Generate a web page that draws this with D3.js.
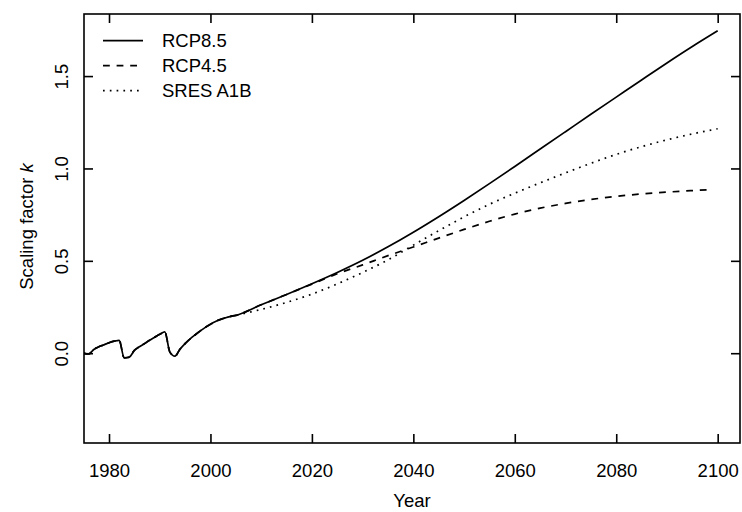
<!DOCTYPE html>
<html>
<head>
<meta charset="utf-8">
<script src="https://cdn.jsdelivr.net/npm/d3@7/dist/d3.min.js"></script>
<style>
  html, body { margin: 0; padding: 0; background: #fff; }
  svg { display: block; }
  text { font-family: "Liberation Sans", Arial, Helvetica, sans-serif; fill: #000; }
</style>
</head>
<body>
<script>
// ---- data ----
const histYears = [1975,1976,1977,1978,1979,1980,1981,1982,1983,1984,1985,1986,1987,1988,1989,1990,1991,1992,1993,1994,1995,1996,1997,1998,1999,2000,2001,2002,2003,2004,2005];
const histValues = [0.000,-0.004,0.020,0.035,0.045,0.057,0.065,0.070,-0.025,-0.021,0.015,0.035,0.052,0.070,0.086,0.102,0.115,0.006,-0.016,0.022,0.052,0.078,0.100,0.121,0.140,0.157,0.172,0.183,0.192,0.199,0.205];

const futYears = [2005,2010,2015,2020,2025,2030,2035,2040,2045,2050,2055,2060,2065,2070,2075,2080,2085,2090,2095,2100];
const rcp85 = [0.205,0.262,0.318,0.376,0.437,0.503,0.576,0.655,0.739,0.827,0.918,1.011,1.105,1.199,1.293,1.386,1.479,1.571,1.660,1.745];
const rcp45Years = [2005,2010,2015,2020,2025,2030,2035,2040,2045,2050,2055,2060,2065,2070,2075,2080,2085,2090,2095,2099];
const rcp45 = [0.205,0.262,0.318,0.374,0.430,0.478,0.528,0.575,0.623,0.670,0.714,0.753,0.785,0.811,0.832,0.849,0.862,0.872,0.880,0.886];
const sresA1B = [0.205,0.237,0.275,0.320,0.375,0.437,0.505,0.585,0.663,0.738,0.806,0.866,0.922,0.976,1.028,1.076,1.118,1.155,1.187,1.215];

const xTicks = [1980,2000,2020,2040,2060,2080,2100];
const yTicks = [0.0,0.5,1.0,1.5];
const legendLabels = ["RCP8.5","RCP4.5","SRES A1B"];

// ---- layout ----
const W = 742, H = 512;
const L = 84, R = 740, T = 14, B = 443;
const FS = 18.5;

const svg = d3.select("body").append("svg").attr("width", W).attr("height", H);

const x = d3.scaleLinear().domain([1975.07, 2104.4]).range([L, R]);
const y = d3.scaleLinear().domain([-0.486, 1.836]).range([B, T]);

function series(fy, fv) {
  const h = histYears.map((yr, i) => [yr, histValues[i]]);
  const f = fy.map((yr, i) => [yr, fv[i]]).filter(d => d[0] > 2005);
  return h.concat(f);
}

const line = d3.line().x(d => x(d[0])).y(d => y(d[1])).curve(d3.curveMonotoneX);
const lw = 1.7;
const styles = [
  { dash: null },
  { dash: `${4*lw},${4*lw}` },
  { dash: `${1*lw},${3*lw}` }
];
const data = [series(futYears, rcp85), series(rcp45Years, rcp45), series(futYears, sresA1B)];

svg.append("clipPath").attr("id", "c").append("rect")
  .attr("x", L).attr("y", T).attr("width", R - L).attr("height", B - T);

const g = svg.append("g").attr("clip-path", "url(#c)");
data.forEach((d, i) => {
  g.append("path").datum(d).attr("d", line)
    .attr("fill", "none").attr("stroke", "#000").attr("stroke-width", lw)
    .attr("stroke-dasharray", styles[i].dash)
    .attr("stroke-linejoin", "round");
});

// axes (ticks inward on all four sides)
const tk = 9;
const axB = svg.append("g").attr("transform", `translate(0,${B})`)
  .call(d3.axisBottom(x).tickValues(xTicks).tickSize(-tk).tickPadding(0).tickFormat(d3.format("d")));
const axT = svg.append("g").attr("transform", `translate(0,${T})`)
  .call(d3.axisTop(x).tickValues(xTicks).tickSize(-tk).tickFormat(""));
const axL = svg.append("g").attr("transform", `translate(${L},0)`)
  .call(d3.axisLeft(y).tickValues(yTicks).tickSize(-tk).tickFormat(d3.format(".1f")));
const axR = svg.append("g").attr("transform", `translate(${R},0)`)
  .call(d3.axisRight(y).tickValues(yTicks).tickSize(-tk).tickFormat(""));

[axB, axT, axL, axR].forEach(a => {
  a.select(".domain").remove();
  a.selectAll(".tick line").attr("stroke", "#000").attr("stroke-width", 1.6);
});

axB.selectAll(".tick text")
  .attr("y", 477 - B).attr("dy", null)
  .style("font-size", FS + "px").style("font-family", "Liberation Sans, Arial, sans-serif").attr("fill", "#000");

axL.selectAll(".tick text")
  .attr("x", null).attr("dy", null)
  .attr("transform", `translate(${68 - L},0) rotate(-90)`)
  .attr("text-anchor", "middle")
  .style("font-size", FS + "px").style("font-family", "Liberation Sans, Arial, sans-serif").attr("fill", "#000");

// frame
svg.append("rect").attr("x", L).attr("y", T).attr("width", R - L).attr("height", B - T)
  .attr("fill", "none").attr("stroke", "#000").attr("stroke-width", 1.6);

// axis titles
svg.append("text").attr("x", (L + R) / 2).attr("y", 507).attr("text-anchor", "middle")
  .style("font-size", FS + "px").text("Year");

const yt = svg.append("text").attr("transform", `translate(33,${(T + B) / 2 - 2}) rotate(-90)`)
  .attr("text-anchor", "middle").style("font-size", FS + "px");
yt.append("tspan").text("Scaling factor ");
yt.append("tspan").style("font-style", "italic").text("k");

// legend
const leg = svg.append("g");
legendLabels.forEach((lab, i) => {
  const yy = 40.7 + i * 25;
  leg.append("line").attr("x1", 103).attr("x2", 143).attr("y1", yy).attr("y2", yy)
    .attr("stroke", "#000").attr("stroke-width", lw).attr("stroke-dasharray", styles[i].dash);
  leg.append("text").attr("x", 162).attr("y", yy + 6).style("font-size", FS + "px").text(lab);
});
</script>
</body>
</html>
